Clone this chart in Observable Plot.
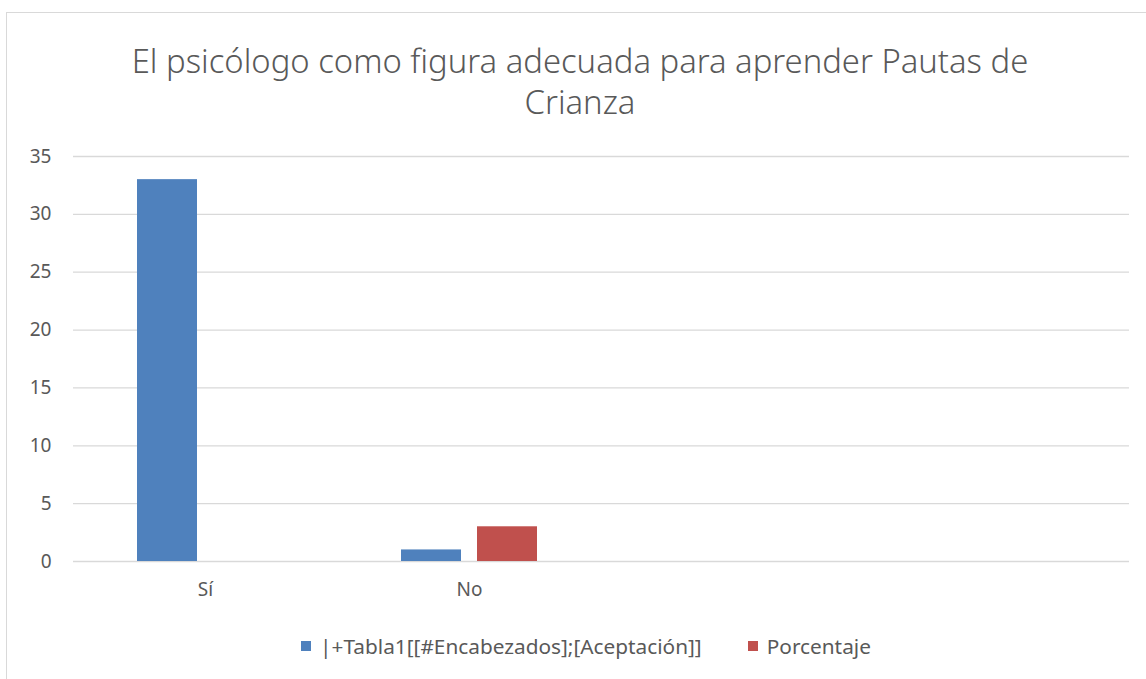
<!DOCTYPE html>
<html>
<head>
<meta charset="utf-8">
<script src="https://cdn.jsdelivr.net/npm/d3@7"></script>
<script src="https://cdn.jsdelivr.net/npm/@observablehq/plot@0.6"></script>
<style>
  html, body { margin: 0; padding: 0; background: #fff; }
  #wrap { position: relative; width: 1146px; height: 679px; overflow: hidden; font-family: "Noto Sans", sans-serif; color: #595959; }
  #frame { position: absolute; left: 6px; top: 12px; width: 1200px; height: 700px; border-left: 1px solid #d9d9d9; border-top: 1px solid #d9d9d9; }
  #title { position: absolute; left: 6px; width: 1148px; top: 40px; text-align: center; font-size: 32.8px; line-height: 41px; font-weight: 300; color: #595959; }
  #chart { position: absolute; left: 0; top: 136px; }
  #legend { position: absolute; left: 0; width: 1146px; top: 632px; display: flex; justify-content: center; padding-left: 26px; box-sizing: border-box; font-size: 20.8px; line-height: 28px; color: #595959; }
  .item { display: flex; align-items: center; margin: 0 23px; }
  .sw { width: 10px; height: 10px; margin-right: 9px; }
</style>
</head>
<body>
<div id="wrap">
  <div id="frame"></div>
  <div id="title">El psicólogo como figura adecuada para aprender Pautas de<br>Crianza</div>
  <div id="chart"></div>
  <div id="legend"></div>
</div>
<script>
const categories = ["Sí", "No", "c3", "c4"];
const categoryLabels = ["Sí", "No", "", ""];
const seriesNames = ["|+Tabla1[[#Encabezados];[Aceptación]]", "Porcentaje"];
const aceptacion = [33, 1, 0, 0];
const porcentaje = [0, 3, 0, 0];
const yTicks = [0, 5, 10, 15, 20, 25, 30, 35];
const colors = ["#4f81bd", "#c0504d"];

const rows = [];
categories.forEach((c, i) => {
  rows.push({cat: c, series: seriesNames[0], value: aceptacion[i]});
  rows.push({cat: c, series: seriesNames[1], value: porcentaje[i]});
});

const chart = Plot.plot({
  width: 1146,
  height: 480,
  marginLeft: 71,
  marginRight: 16,
  marginTop: 20,
  marginBottom: 55,
  style: {fontFamily: "Noto Sans, sans-serif", fontSize: "19px", color: "#595959", background: "transparent"},
  fx: {domain: categories, padding: 0, label: null, tickSize: 0, tickPadding: 21,
       tickFormat: d => categoryLabels[categories.indexOf(d)], axis: "bottom"},
  x: {domain: seriesNames, paddingInner: 0.21, paddingOuter: 0.83, axis: null},
  y: {domain: [0, 35], ticks: yTicks, tickSize: 0, tickPadding: 22, label: null},
  color: {domain: seriesNames, range: colors},
  marks: [
    Plot.ruleY(yTicks, {stroke: "#d9d9d9", strokeWidth: 1.3}),
    Plot.barY(rows, {fx: "cat", x: "series", y: "value", fill: "series"})
  ]
});
document.getElementById("chart").appendChild(chart);

const legend = document.getElementById("legend");
seriesNames.forEach((s, i) => {
  const item = document.createElement("div");
  item.className = "item";
  const sw = document.createElement("div");
  sw.className = "sw";
  sw.style.background = colors[i];
  const t = document.createElement("span");
  t.textContent = s;
  item.appendChild(sw);
  item.appendChild(t);
  legend.appendChild(item);
});
</script>
</body>
</html>
